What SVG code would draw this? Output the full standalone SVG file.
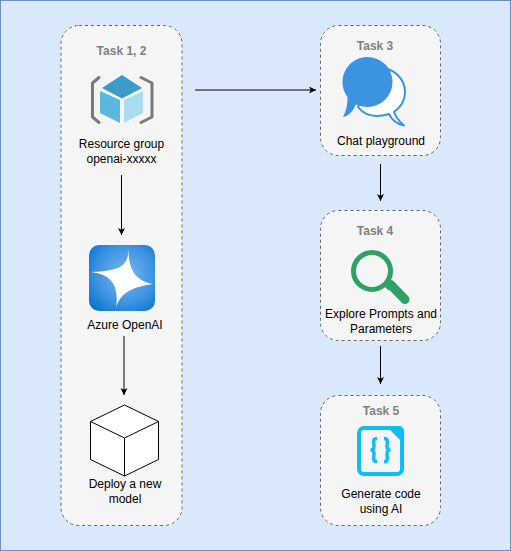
<svg xmlns="http://www.w3.org/2000/svg" width="511" height="551" viewBox="0 0 511 551">
<style>
text{font-family:"Liberation Sans",Arial,sans-serif;font-size:12px;text-anchor:middle;fill:#000}
.t{font-weight:bold;fill:#808080}
.box{fill:#f5f5f5;stroke:#666;stroke-dasharray:3 3}
.c{fill:none;stroke:#000}
</style>
<defs>
<marker id="a" markerWidth="8" markerHeight="8" refX="7" refY="3.500" orient="auto" markerUnits="userSpaceOnUse"><path d="M0 0L7 3.500L0 7L1.750 3.500Z" fill="#000"/></marker>
<radialGradient id="g" cx="0.55" cy="0.45" r="0.72"><stop offset="0" stop-color="#7ab8f0"/><stop offset="0.6" stop-color="#3d93e2"/><stop offset="1" stop-color="#0571cf"/></radialGradient>
</defs>
<rect x="0.5" y="0.5" width="510" height="550" fill="#dae8fc" stroke="#6c8ebf"/>
<g id="task12">
<rect class="box" x="61" y="25.500" width="121" height="500" rx="18"/>
<text class="t" x="121.500" y="55">Task 1, 2</text>
<g id="resource-group">
<path d="M99 77.500L92.500 83V117L99 122.500M141 77.500L152 83V117L141 122.500" fill="none" stroke="#7a7a7a" stroke-width="3" stroke-linecap="round" stroke-linejoin="round"/>
<path d="M100 91L120 100V123L100 113Z" fill="#5cb7dc"/>
<path d="M124 100L143 91V113L124 123Z" fill="#acdcef"/>
<path d="M122 75L142 88L122 98.500L102 88Z" fill="#3b9bc9"/>
<text x="121.500" y="148">Resource group</text>
<text x="121.500" y="163">openai-xxxxx</text>
</g>
<g id="azure-openai">
<rect x="89" y="245" width="66" height="66" rx="10" fill="url(#g)"/>
<path d="M128.500 247C128.300 264 124 271 91 272C108 274 120 282 116 308C120 293 132 287 153 284C137 281 128 272 128.500 247Z" fill="#fff"/>
<text x="125" y="329">Azure OpenAI</text>
</g>
<g id="deploy-model">
<path d="M90.500 421.500L124.500 405L158.500 421.500V459.500L124.500 476L90.500 459.500Z" fill="#fff" stroke="#000"/>
<path d="M90.500 421.500L124.500 438L158.500 421.500M124.500 438V476" fill="none" stroke="#000"/>
<text x="125" y="488">Deploy a new</text>
<text x="125" y="503">model</text>
</g>
</g>
<g id="task3">
<rect class="box" x="320.500" y="25.500" width="120" height="130" rx="18"/>
<text class="t" x="375" y="50">Task 3</text>
<path d="M380 68A25 24 0 0 1 405 92C405 101 401 107 394 112C396 118 400 122 404 125.500C397 124 392 120 389 114C376 118 365 116 358 107Z" fill="#fff" stroke="#3a94e2" stroke-width="2" stroke-linejoin="round"/>
<path d="M367.500 57A25 25 0 1 1 367.500 107C363.500 107 359 106 356 104.500C353 111 349 116 343 117C346 111 347.500 106 347.500 97A25 25 0 0 1 367.500 57Z" fill="#3a94e2"/>
<text x="381" y="145">Chat playground</text>
</g>
<g id="task4">
<rect class="box" x="320.500" y="210.500" width="120" height="130" rx="18"/>
<text class="t" x="375" y="235">Task 4</text>
<circle cx="372" cy="271" r="18.500" fill="none" stroke="#2ea164" stroke-width="5"/>
<path d="M386 285L390 289" fill="none" stroke="#2ea164" stroke-width="4"/>
<path d="M390.500 284.500L405 299.500" fill="none" stroke="#2ea164" stroke-width="9" stroke-linecap="round"/>
<text x="381" y="318">Explore Prompts and</text>
<text x="381" y="333">Parameters</text>
</g>
<g id="task5">
<rect class="box" x="320.500" y="395.500" width="120" height="130" rx="18"/>
<text class="t" x="381" y="415">Task 5</text>
<path d="M364 428H391L402 439V469A5 5 0 0 1 397 474H364A5 5 0 0 1 359 469V433A5 5 0 0 1 364 428Z" fill="none" stroke="#10bdf2" stroke-width="4" stroke-linejoin="round"/>
<path d="M391 426L404 439V431A5 5 0 0 0 399 426Z" fill="#10bdf2"/>
<path d="M377 438.500C372 438.500 374 443 374 446C374 449 373 450 370.500 450C373 450 374 451 374 454C374 457 372 461.500 377 461.500M384 438.500C389 438.500 387 443 387 446C387 449 388 450 390.500 450C388 450 387 451 387 454C387 457 389 461.500 384 461.500" fill="none" stroke="#10bdf2" stroke-width="3.500"/>
<text x="381" y="498">Generate code</text>
<text x="381" y="513">using AI</text>
</g>
<g id="connectors">
<path class="c" d="M121.500 175V235" marker-end="url(#a)"/>
<path class="c" d="M124 336V395" marker-end="url(#a)"/>
<path class="c" d="M195 90H316" marker-end="url(#a)"/>
<path class="c" d="M380.500 164V201" marker-end="url(#a)"/>
<path class="c" d="M380.500 346V384" marker-end="url(#a)"/>
</g>
</svg>
